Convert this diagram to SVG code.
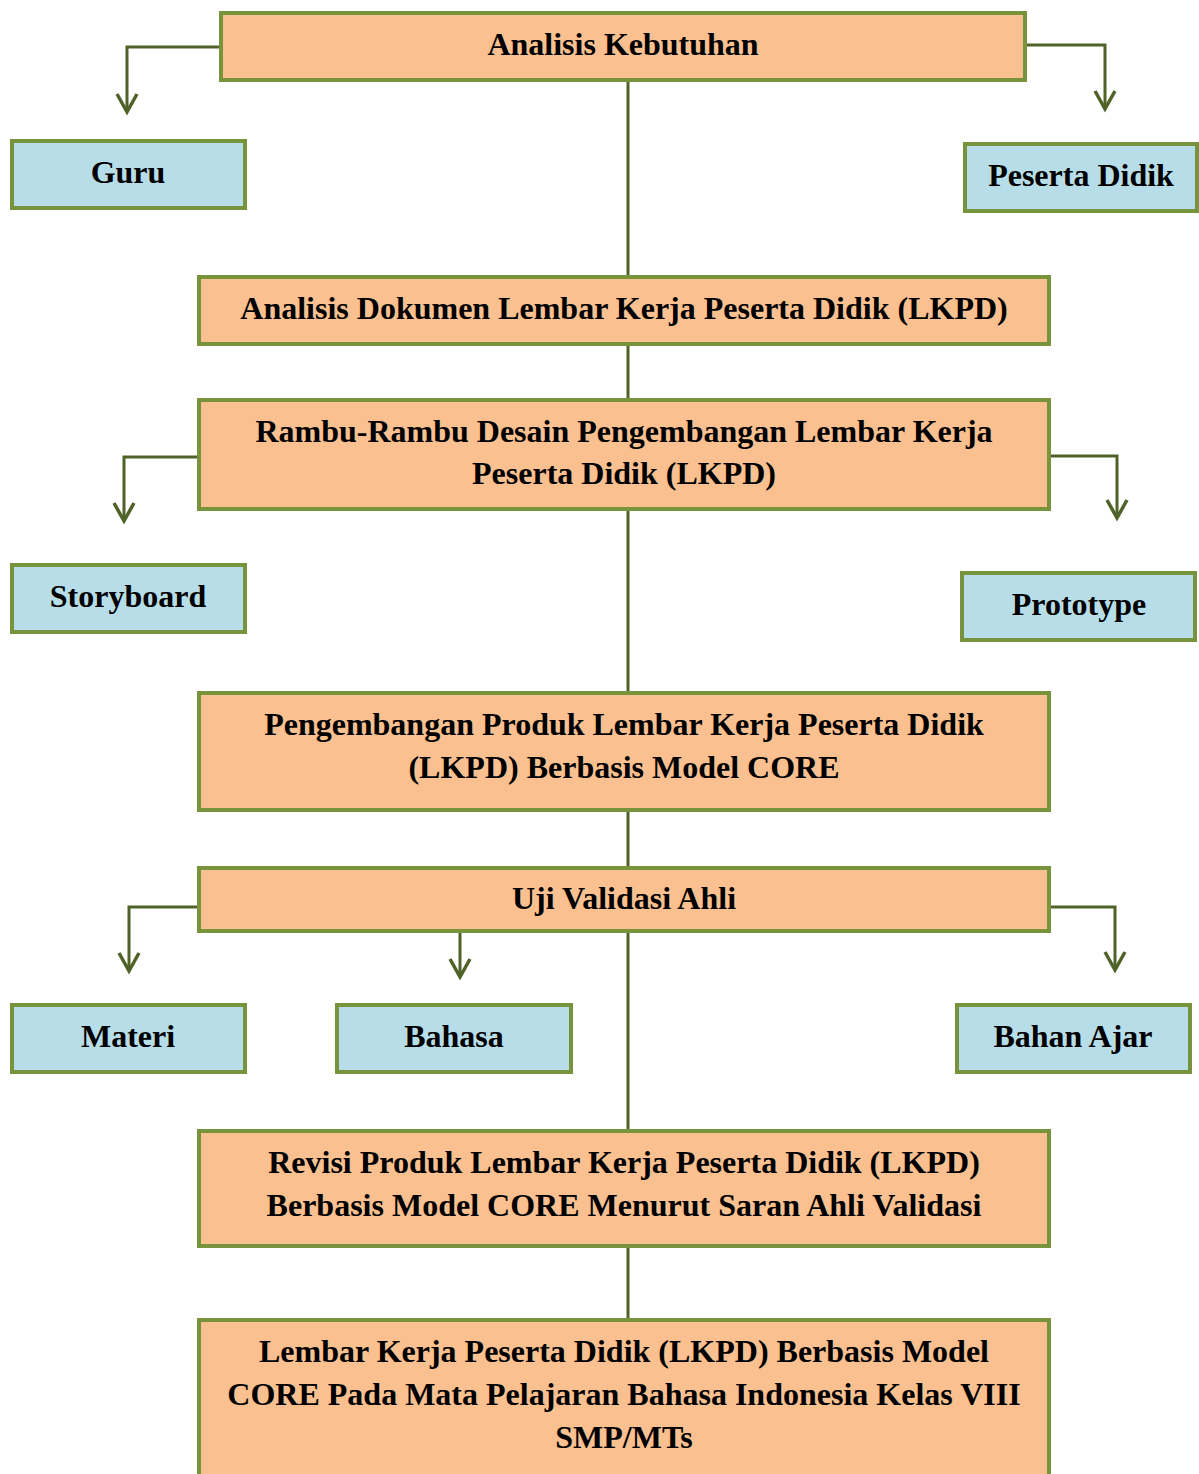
<svg xmlns="http://www.w3.org/2000/svg" width="1199" height="1474" viewBox="0 0 1199 1474">
  <defs>
    <style>
      .stage { fill: #FAC090; stroke: #77933C; stroke-width: 4; }
      .leaf { fill: #B7DEE8; stroke: #77933C; stroke-width: 4; }
      .lbl { font-family: "Liberation Serif", "Times New Roman", serif; font-weight: bold; font-size: 32px; fill: #000; text-anchor: middle; }
      .wire { fill: none; stroke: #4F6228; stroke-width: 3; }
      .arrow { fill: none; stroke: #4F6228; stroke-width: 3; marker-end: url(#vhead); }
    </style>
    <marker id="vhead" viewBox="-22 -14 28 28" refX="0" refY="0" markerWidth="28" markerHeight="28" markerUnits="userSpaceOnUse" orient="auto">
      <path d="M -18 -10 L 0 0 L -18 10" fill="none" stroke="#4F6228" stroke-width="3.5"/>
    </marker>
  </defs>
  <rect width="1199" height="1474" fill="#fff"/>

  <!-- connectors: central trunk plus side branches -->
  <g id="connectors">
    <line class="wire" x1="628" y1="80" x2="628" y2="1320"/>
    <path class="arrow" d="M 221 47 H 127 V 112"/>
    <path class="arrow" d="M 1025 45 H 1105 V 109"/>
    <path class="arrow" d="M 199 457 H 124 V 521"/>
    <path class="arrow" d="M 1049 456 H 1117 V 518"/>
    <path class="arrow" d="M 199 907 H 129 V 971"/>
    <path class="arrow" d="M 460 931 V 977"/>
    <path class="arrow" d="M 1049 907 H 1115 V 970"/>
  </g>

  <g id="analisis-kebutuhan">
    <rect class="stage" x="221" y="13" width="804" height="67"/>
    <text class="lbl" x="623" y="55">Analisis Kebutuhan</text>
  </g>
  <g id="guru">
    <rect class="leaf" x="12" y="141" width="233" height="67"/>
    <text class="lbl" x="128" y="183">Guru</text>
  </g>
  <g id="peserta-didik">
    <rect class="leaf" x="965" y="144" width="232" height="67"/>
    <text class="lbl" x="1081" y="186">Peserta Didik</text>
  </g>
  <g id="analisis-dokumen">
    <rect class="stage" x="199" y="277" width="850" height="67"/>
    <text class="lbl" x="624" y="319">Analisis Dokumen Lembar Kerja Peserta Didik (LKPD)</text>
  </g>
  <g id="rambu-rambu">
    <rect class="stage" x="199" y="400" width="850" height="109"/>
    <text class="lbl" x="624" y="442">Rambu-Rambu Desain Pengembangan Lembar Kerja</text>
    <text class="lbl" x="624" y="484">Peserta Didik (LKPD)</text>
  </g>
  <g id="storyboard">
    <rect class="leaf" x="12" y="565" width="233" height="67"/>
    <text class="lbl" x="128" y="607">Storyboard</text>
  </g>
  <g id="prototype">
    <rect class="leaf" x="962" y="573" width="233" height="67"/>
    <text class="lbl" x="1079" y="615">Prototype</text>
  </g>
  <g id="pengembangan-produk">
    <rect class="stage" x="199" y="693" width="850" height="117"/>
    <text class="lbl" x="624" y="735">Pengembangan Produk Lembar Kerja Peserta Didik</text>
    <text class="lbl" x="624" y="778">(LKPD) Berbasis Model CORE</text>
  </g>
  <g id="uji-validasi">
    <rect class="stage" x="199" y="868" width="850" height="63"/>
    <text class="lbl" x="624" y="909">Uji Validasi Ahli</text>
  </g>
  <g id="materi">
    <rect class="leaf" x="12" y="1005" width="233" height="67"/>
    <text class="lbl" x="128" y="1047">Materi</text>
  </g>
  <g id="bahasa">
    <rect class="leaf" x="337" y="1005" width="234" height="67"/>
    <text class="lbl" x="454" y="1047">Bahasa</text>
  </g>
  <g id="bahan-ajar">
    <rect class="leaf" x="957" y="1005" width="233" height="67"/>
    <text class="lbl" x="1073" y="1047">Bahan Ajar</text>
  </g>
  <g id="revisi-produk">
    <rect class="stage" x="199" y="1131" width="850" height="115"/>
    <text class="lbl" x="624" y="1173">Revisi Produk Lembar Kerja Peserta Didik (LKPD)</text>
    <text class="lbl" x="624" y="1216">Berbasis Model CORE Menurut Saran Ahli Validasi</text>
  </g>
  <g id="lkpd-akhir">
    <rect class="stage" x="199" y="1320" width="850" height="170"/>
    <text class="lbl" x="624" y="1362">Lembar Kerja Peserta Didik (LKPD) Berbasis Model</text>
    <text class="lbl" x="624" y="1405">CORE Pada Mata Pelajaran Bahasa Indonesia Kelas VIII</text>
    <text class="lbl" x="624" y="1448">SMP/MTs</text>
  </g>
</svg>
